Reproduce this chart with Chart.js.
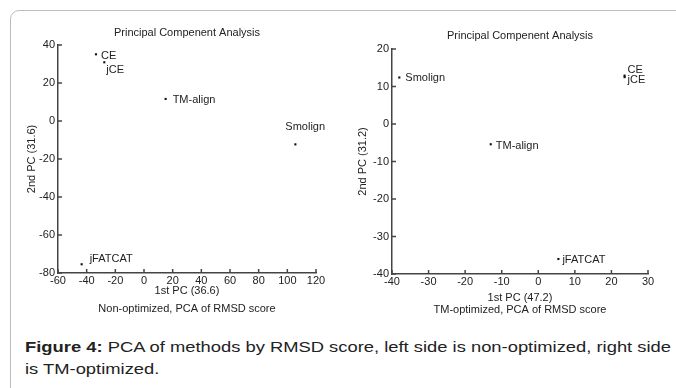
<!DOCTYPE html>
<html>
<head>
<meta charset="utf-8">
<script src="https://cdn.jsdelivr.net/npm/chart.js@4"></script>
<style>
  body { margin: 0; background: #fff; width: 676px; height: 388px; overflow: hidden; position: relative; font-family: "Liberation Sans", Arial, sans-serif; }
  #frame { position: absolute; left: 10px; top: 10px; width: 700px; height: 400px; border: 1px solid #bdbdbd; border-top-left-radius: 9px; }
  #left { position: absolute; left: 0; top: 0; }
  #right { position: absolute; left: 340px; top: 0; }
  #caption { position: absolute; left: 25px; top: 336px; white-space: nowrap; font-size: 15.5px; line-height: 22px; color: #222; transform-origin: 0 0; }
</style>
</head>
<body>
<div id="frame"></div>
<canvas id="left" width="340" height="330"></canvas>
<canvas id="right" width="336" height="330"></canvas>
<div id="caption"><span id="line1"><b>Figure 4:</b> PCA of methods by RMSD score, left side is non-optimized, right side</span><br>is TM-optimized.</div>
<script>
// method names
var methods = ["CE", "jCE", "TM-align", "Smolign", "jFATCAT"];

// non-optimized PCA scores
var leftPC1 = [-33.5, -27.7, 15.1, 105.6, -43.5];
var leftPC2 = [35.1, 30.9, 11.6, -12.3, -75.4];

// TM-optimized PCA scores
var rightPC1 = [23.6, 23.6, -13.0, -38.0, 5.5];
var rightPC2 = [12.9, 12.5, -5.4, 12.4, -36.0];

// label offsets from the point (pixels)
var leftOffsets = [[5, 2], [2, 8], [7, 1], [-10, -17], [8, -5]];
var rightOffsets = [[3, -6], [3, 3], [5, 2], [6, 0], [4, 1]];

Chart.defaults.font.family = "'Liberation Sans', Arial, sans-serif";
Chart.defaults.font.size = 11;
Chart.defaults.color = "#222";

// stretch caption so the first line spans like the original
var line1 = document.getElementById("line1");
var sx = 646 / line1.getBoundingClientRect().width;
document.getElementById("caption").style.transform = "scaleX(" + sx + ")";

function toPoints(xs, ys) {
  var pts = [];
  for (var i = 0; i < xs.length; i++) pts.push({ x: xs[i], y: ys[i] });
  return pts;
}

// labels, inward ticks and texts
var annotPlugin = {
  id: "annot",
  afterDraw: function (chart) {
    var o = chart.options.plugins.annot;
    var ctx = chart.ctx;
    var area = chart.chartArea;
    var xs = chart.scales.x, ys = chart.scales.y;
    ctx.save();
    ctx.strokeStyle = "#444";
    ctx.lineWidth = 1.5;
    ys.ticks.forEach(function (t) {
      var py = ys.getPixelForValue(t.value);
      ctx.beginPath();
      ctx.moveTo(area.left, py);
      ctx.lineTo(area.left + 4, py);
      ctx.stroke();
    });
    xs.ticks.forEach(function (t) {
      var px = xs.getPixelForValue(t.value);
      ctx.beginPath();
      ctx.moveTo(px, area.bottom);
      ctx.lineTo(px, area.bottom - 4);
      ctx.stroke();
    });

    ctx.fillStyle = "#222";
    ctx.font = "11px 'Liberation Sans', Arial, sans-serif";
    ctx.textBaseline = "middle";
    ctx.textAlign = "left";
    var meta = chart.getDatasetMeta(0);
    meta.data.forEach(function (el, i) {
      ctx.fillText(o.names[i], el.x + o.offsets[i][0], el.y + o.offsets[i][1]);
    });

    ctx.textAlign = "center";
    var cx = (area.left + area.right) / 2;
    ctx.fillText("Principal Compenent Analysis", cx, o.titleY);
    ctx.fillText(o.xTitle, cx, o.xTitleY);
    ctx.fillText(o.sub, cx, o.subY);
    ctx.translate(o.yTitleX, (area.top + area.bottom) / 2);
    ctx.rotate(-Math.PI / 2);
    ctx.fillText(o.yTitle, 0, 0);
    ctx.restore();
  }
};

function makeChart(id, xs, ys, xr, yr, lay, annot) {
  return new Chart(document.getElementById(id), {
    type: "scatter",
    data: {
      datasets: [{
        data: toPoints(xs, ys),
        pointStyle: "rect",
        pointRadius: 1.5,
        backgroundColor: "#111",
        borderWidth: 0
      }]
    },
    options: {
      responsive: false,
      animation: false,
      layout: { padding: lay.padding },
      plugins: { legend: { display: false }, tooltip: { enabled: false }, annot: annot },
      scales: {
        x: {
          min: xr[0], max: xr[1],
          ticks: { stepSize: xr[2], padding: 1, maxRotation: 0 },
          grid: { display: false, drawTicks: false },
          border: { display: true, color: "#444", width: 1.5 },
          afterFit: function (s) { s.height = 40; }
        },
        y: {
          min: yr[0], max: yr[1],
          ticks: { stepSize: yr[2], padding: 3 },
          grid: { display: false, drawTicks: false },
          border: { display: true, color: "#444", width: 1.5 },
          afterFit: function (s) { s.width = lay.yWidth; }
        }
      }
    },
    plugins: [annotPlugin]
  });
}

makeChart("left", leftPC1, leftPC2, [-60, 120, 20], [-80, 40, 20],
  { padding: { top: 45, right: 24, left: 0, bottom: 17 }, yWidth: 58 },
  { names: methods, offsets: leftOffsets, titleY: 33, xTitle: "1st PC (36.6)", xTitleY: 291,
    sub: "Non-optimized, PCA of RMSD score", subY: 309, yTitle: "2nd PC (31.6)", yTitleX: 32 });

makeChart("right", rightPC1, rightPC2, [-40, 30, 10], [-40, 20, 10],
  { padding: { top: 49, right: 28, left: 0, bottom: 16 }, yWidth: 52 },
  { names: methods, offsets: rightOffsets, titleY: 36, xTitle: "1st PC (47.2)", xTitleY: 298,
    sub: "TM-optimized, PCA of RMSD score", subY: 310, yTitle: "2nd PC (31.2)", yTitleX: 23 });
</script>
</body>
</html>
